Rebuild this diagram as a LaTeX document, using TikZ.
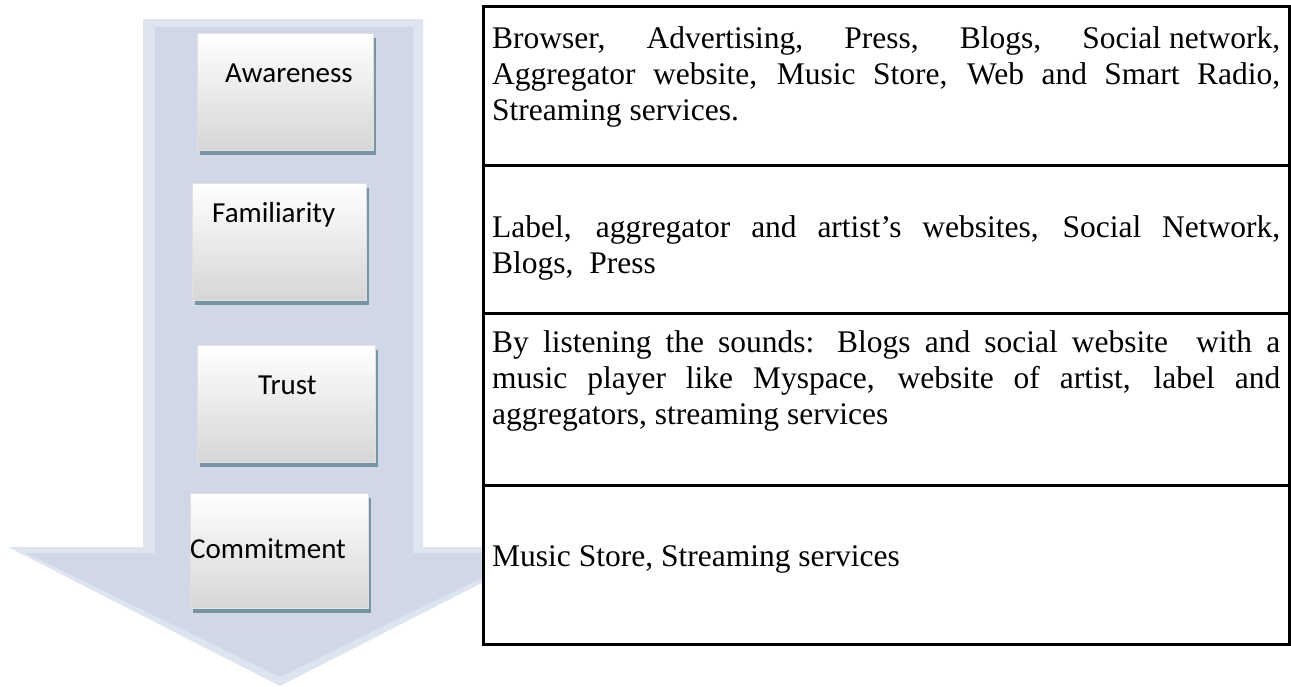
\documentclass[tikz,border=0pt]{standalone}
\usepackage{fontspec}
\setmainfont{Liberation Serif}
\newfontfamily\boxfont{Carlito}
\usetikzlibrary{shadows}

\definecolor{arrowmain}{RGB}{208,216,232}
\definecolor{arrowedge}{RGB}{222,228,240}
\definecolor{boxshade}{RGB}{118,148,162}
\definecolor{boxbottom}{RGB}{214,214,214}
\definecolor{boxline}{RGB}{224,224,224}

\tikzset{
  stage/.style={rectangle, inner sep=0pt, top color=white, bottom color=boxbottom,
    draw=boxline, line width=0.8pt,
    drop shadow={shadow xshift=3pt, shadow yshift=-5pt, fill=boxshade, opacity=1}},
  stagelabel/.style={anchor=base west, inner sep=0pt,
    font=\boxfont\fontsize{29}{34}\selectfont},
  cell/.style={rectangle, draw=black, line width=2.5pt, fill=white, inner sep=0pt,
    minimum width=806pt},
  celltext/.style={anchor=base west, inner sep=0pt, font=\fontsize{31.5}{36}\selectfont},
}
% a justified line stretched to the full cell width
\newcommand\fullline[1]{\makebox[788pt][s]{#1}}

\begin{document}
\begin{tikzpicture}[x=1pt,y=-1pt]
\useasboundingbox (0,0) rectangle (1291,686);

% the big downward arrow behind the stages
\fill[arrowedge] (143,19) -- (423,19) -- (423,547) -- (552,547) -- (280,686)
  -- (8,547) -- (143,547) -- cycle;
\fill[arrowmain] (155,27) -- (413,27) -- (413,553) -- (532,553) -- (280,677)
  -- (26,553) -- (155,553) -- cycle;

% stage boxes
\node[stage, minimum width=176pt, minimum height=117pt] (aw) at (285,91.5) {};
\node[stage, minimum width=174pt, minimum height=117pt] (fa) at (279,241.5) {};
\node[stage, minimum width=178pt, minimum height=117pt] (tr) at (286,403.5) {};
\node[stage, minimum width=178pt, minimum height=115pt] (co) at (279,550.5) {};

\node[stagelabel] (awl) at (225,82) {Awareness};
\node[stagelabel] (fal) at (212,222) {Familiarity};
\node[stagelabel] (trl) at (258,394) {Trust};
\node[stagelabel] (col) at (190,558) {Commitment};

% table of channels
\node[cell, minimum height=159pt, anchor=north west] (row1) at (482,5) {};
\node[cell, minimum height=148pt, anchor=north west] (row2) at (482,164) {};
\node[cell, minimum height=172pt, anchor=north west] (row3) at (482,312) {};
\node[cell, minimum height=159pt, anchor=north west] (row4) at (482,484) {};

\node[celltext] (t1a) at (492,48) {\fullline{Browser, Advertising, Press, Blogs, Social\kern0.25em network,}};
\node[celltext] (t1b) at (492,84) {\fullline{Aggregator website, Music Store, Web and Smart Radio,}};
\node[celltext] (t1c) at (492,120) {Streaming services.};

\node[celltext] (t2a) at (492,237) {\fullline{Label, aggregator and artist’s websites, Social Network,}};
\node[celltext] (t2b) at (492,273) {Blogs,~ Press};

\node[celltext] (t3a) at (492,352) {\fullline{By listening the sounds: Blogs and social website~ with a}};
\node[celltext] (t3b) at (492,388) {\fullline{music player like Myspace, website of artist, label and}};
\node[celltext] (t3c) at (492,424) {aggregators, streaming services};

\node[celltext] (t4a) at (492,566) {Music Store, Streaming services};
\end{tikzpicture}
\end{document}
